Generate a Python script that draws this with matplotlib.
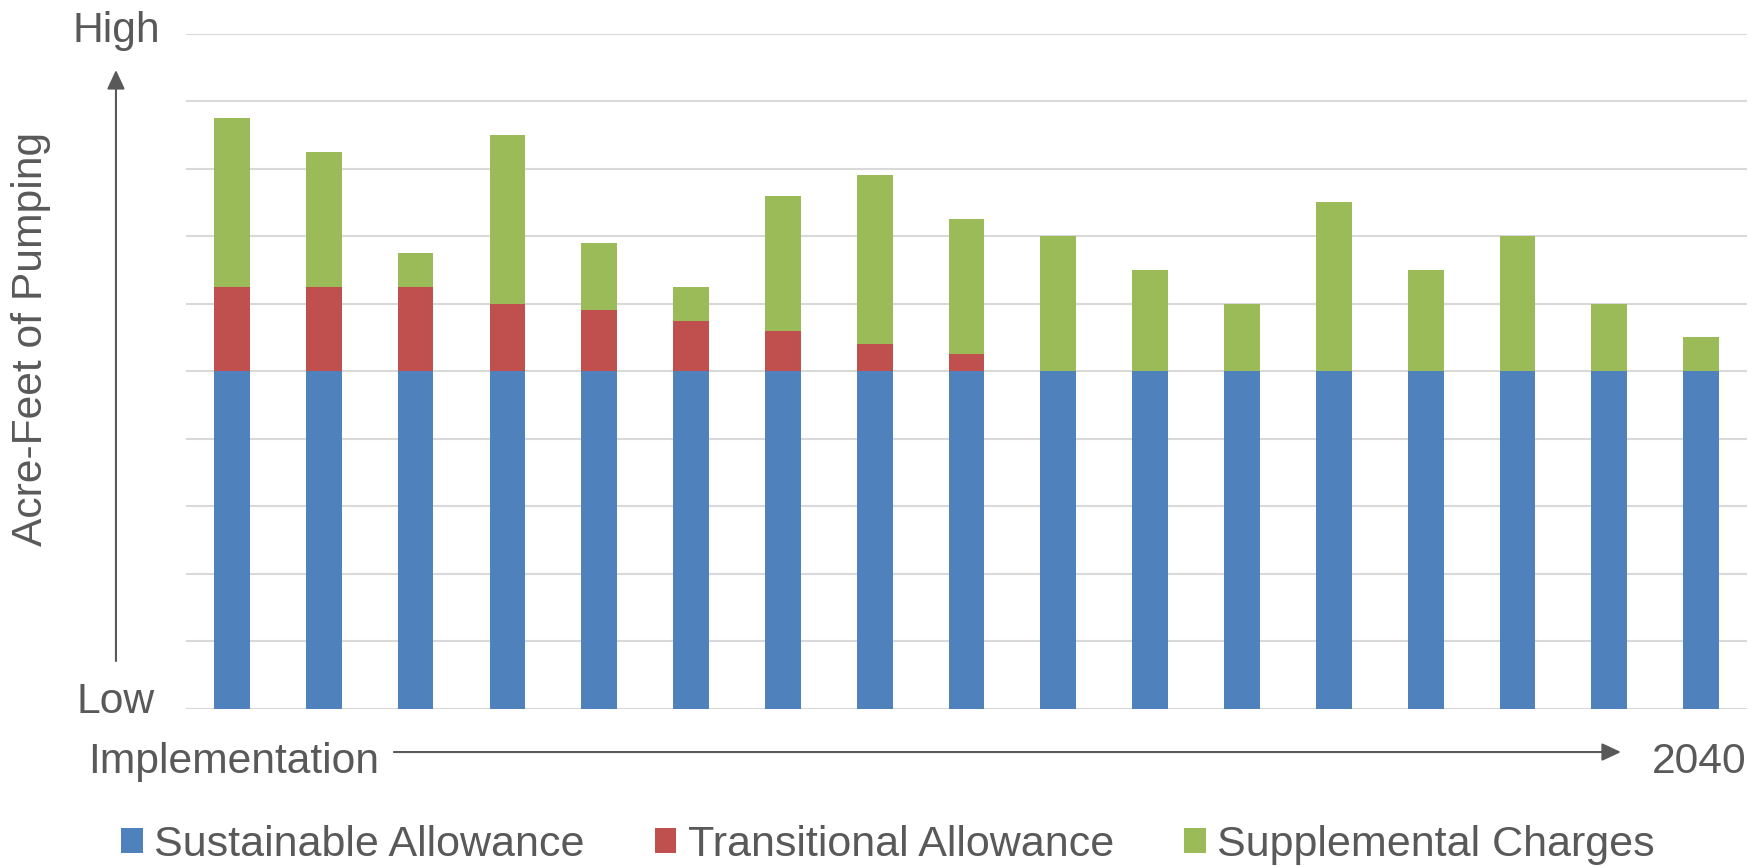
import matplotlib.pyplot as plt
import numpy as np

plt.rcParams['font.family'] = ['Liberation Sans', 'DejaVu Sans']

# Chart data (relative units, 0 = Low, 10 = High)
periods = list(range(1, 18))
sustainable = [5, 5, 5, 5, 5, 5, 5, 5, 5, 5, 5, 5, 5, 5, 5, 5, 5]
transitional = [1.25, 1.25, 1.25, 1.0, 0.9, 0.75, 0.6, 0.4, 0.25, 0, 0, 0, 0, 0, 0, 0, 0]
supplemental = [2.5, 2.0, 0.5, 2.5, 1.0, 0.5, 2.0, 2.5, 2.0, 2.0, 1.5, 1.0, 2.5, 1.5, 2.0, 1.0, 0.5]
series_names = ['Sustainable Allowance', 'Transitional Allowance', 'Supplemental Charges']
colors = ['#4F81BD', '#C0504D', '#9BBB59']
text_color = '#595959'
fs = 30.7

fig = plt.figure(figsize=(17.65, 8.66), dpi=100)
ax = fig.add_axes([0.1054, 0.1813, 0.8844, 0.7800])

x = np.arange(len(periods))
s = np.array(sustainable)
t = np.array(transitional)
g = np.array(supplemental)
ax.bar(x, s, width=0.39, color=colors[0], label=series_names[0], zorder=3)
ax.bar(x, t, width=0.39, bottom=s, color=colors[1], label=series_names[1], zorder=3)
ax.bar(x, g, width=0.39, bottom=s + t, color=colors[2], label=series_names[2], zorder=3)

ax.set_xlim(-0.5, len(periods) - 0.5)
ax.set_ylim(0, 10)
ax.set_yticks(range(0, 11))
ax.grid(axis='y', color='#D9D9D9', linewidth=1.5, zorder=0)
ax.tick_params(left=False, bottom=False, labelleft=False, labelbottom=False)
for sp in ax.spines.values():
    sp.set_visible(False)

# axis annotations
fig.text(0.0657, 0.9519, 'High', ha='center', va='baseline', fontsize=fs, color=text_color)
fig.text(0.0657, 0.1767, 'Low', ha='center', va='baseline', fontsize=fs, color=text_color)
fig.text(0.0176, 0.6085, 'Acre-Feet of Pumping', rotation=90, ha='center', va='center',
         fontsize=fs, color=text_color)
fig.text(0.0499, 0.1074, 'Implementation', ha='left', va='baseline', fontsize=fs, color=text_color)
fig.text(0.9898, 0.1074, '2040', ha='right', va='baseline', fontsize=fs, color=text_color)

arrow = dict(arrowstyle='-|>,head_length=0.58,head_width=0.27', color=text_color,
             lw=1.5, mutation_scale=20, shrinkA=0, shrinkB=0)
ax.annotate('', xy=(0.0657, 0.9192), xytext=(0.0657, 0.2367),
            xycoords='figure fraction', textcoords='figure fraction', arrowprops=arrow)
ax.annotate('', xy=(0.9184, 0.1316), xytext=(0.2232, 0.1316),
            xycoords='figure fraction', textcoords='figure fraction', arrowprops=arrow)

fig.legend(loc='center', bbox_to_anchor=(0.503, 0.0242), ncol=3, frameon=False,
           fontsize=31, labelcolor=text_color, handlelength=0.51, handleheight=0.51,
           handletextpad=0.26, columnspacing=1.62, borderpad=0)

fig.savefig('out.png', dpi=100)
